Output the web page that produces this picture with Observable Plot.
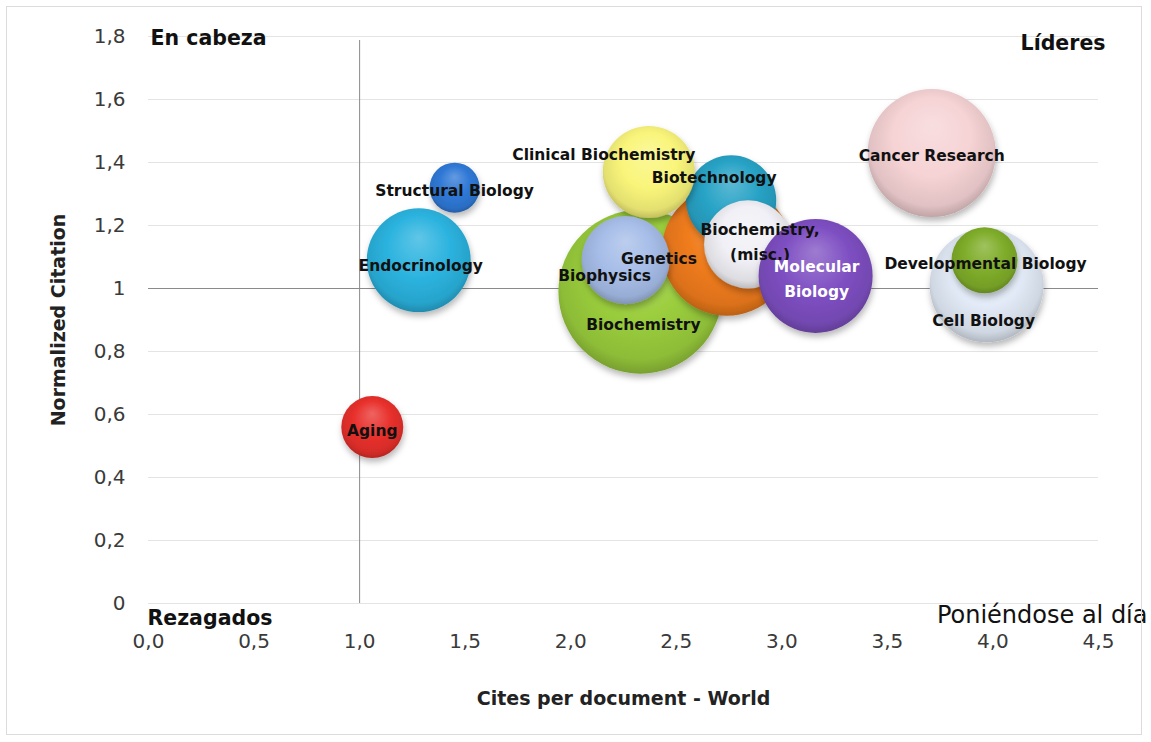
<!DOCTYPE html>
<html>
<head>
<meta charset="utf-8">
<script src="https://cdn.jsdelivr.net/npm/d3@7"></script>
<script src="https://cdn.jsdelivr.net/npm/@observablehq/plot@0.6"></script>
<style>
  html, body { margin: 0; padding: 0; background: #ffffff; }
  #chart { width: 1151px; height: 742px; }
</style>
</head>
<body>
<div id="chart"></div>
<script>
// ---- Data (drawing order: back to front) ----
const categories = [
  "Aging", "Structural Biology", "Endocrinology", "Cancer Research", "Cell Biology",
  "Developmental Biology", "Biochemistry", "Genetics", "Biotechnology",
  "Clinical Biochemistry", "Biochemistry, (misc.)", "Biophysics", "Molecular Biology"
];
const labels = [
  "Aging", "Structural Biology", "Endocrinology", "Cancer Research", "Cell Biology",
  "Developmental Biology", "Biochemistry", "Genetics", "Biotechnology",
  "Clinical Biochemistry", "Biochemistry,\n(misc.)", "Biophysics", "Molecular\nBiology"
];
const citesPerDoc        = [1.06, 1.45, 1.28, 3.71, 3.97, 3.96, 2.33, 2.74, 2.76, 2.37, 2.84, 2.26, 3.16];
const normalizedCitation = [0.56, 1.32, 1.09, 1.43, 1.01, 1.09, 0.99, 1.12, 1.28, 1.37, 1.14, 1.09, 1.04];
const bubbleSize         = [9.6, 6.25, 27, 41, 32.5, 10.9, 67.2, 42.3, 20.3, 21.2, 19.4, 19.4, 32.5];

const xTicks = [0, 0.5, 1, 1.5, 2, 2.5, 3, 3.5, 4, 4.5];
const yTicks = [0, 0.2, 0.4, 0.6, 0.8, 1, 1.2, 1.4, 1.6, 1.8];
const xTitle = "Cites per document - World";
const yTitle = "Normalized Citation";
const quadrantLabels = ["En cabeza", "Líderes", "Rezagados", "Poniéndose al día"];

// ---- Styles ----
const bubbleColors = [
  "#e8302c", "#2f78d6", "#2bb3df", "#f6d3d5", "#e2ebf7",
  "#7fad2a", "#9acd3c", "#f07c1c", "#28a3c6",
  "#f9f57a", "#f1f0f6", "#a6bde8", "#7e4fc2"
];
const labelColors = categories.map(c => c === "Molecular Biology" ? "#ffffff" : "#111111");
const labelDx = [0, 0, 2, 0, -3, 1, 3, -68, -17, -45, 12, -21, 1];
const labelDy = [1, 0, 3, 0, 33, 1, 30, 5, -25, -20, -5, 13, 1];

const data = categories.map((c, i) => ({
  i, name: c, label: labels[i],
  x: citesPerDoc[i], y: normalizedCitation[i], size: bubbleSize[i]
}));

const fmtY = v => v === 0 ? "0" : v === 1 ? "1" : v.toFixed(1).replace(".", ",");
const fmtX = v => v.toFixed(1).replace(".", ",");

const FONT = "DejaVu Sans";

const plot = Plot.plot({
  width: 1151,
  height: 742,
  marginLeft: 148,
  marginRight: 53,
  marginTop: 36,
  marginBottom: 139,
  style: { fontFamily: FONT, fontSize: "20px", color: "#3a3a3a", background: "#ffffff", overflow: "visible" },
  x: { domain: [0, 4.5], ticks: xTicks, tickFormat: fmtX, tickSize: 0, tickPadding: 30, label: null },
  y: { domain: [0, 1.8], ticks: yTicks, tickFormat: fmtY, tickSize: 0, tickPadding: 23, label: null },
  r: { type: "sqrt", domain: [0, 100], range: [0, 100] },
  marks: [
    Plot.ruleY(yTicks, { stroke: "#e4e4e4", strokeWidth: 1 }),
    Plot.ruleY([1], { stroke: "#8a8a8a", strokeWidth: 1 }),
    Plot.ruleX([1], { y1: 0, y2: 1.8, stroke: "#8a8a8a", strokeWidth: 1, insetBottom: -4 }),
    ...data.map(d => Plot.dot([d], {
      x: "x", y: "y", r: "size",
      fill: `url(#bub${d.i})`, stroke: "none"
    })),
    ...data.map(d => Plot.text([d], {
      x: "x", y: "y", text: "label",
      dx: labelDx[d.i], dy: labelDy[d.i],
      fontFamily: FONT, fontSize: 15.5, fontWeight: "bold",
      lineAnchor: "middle", lineHeight: 1.6,
      fill: labelColors[d.i]
    })),
    // quadrant labels
    Plot.text([quadrantLabels[0]], { x: () => 0, y: () => 1.8, text: d => d, textAnchor: "start", lineAnchor: "middle", dx: 2, dy: 2, fontFamily: FONT, fontSize: 20.5, fontWeight: "bold", fill: "#111" }),
    Plot.text([quadrantLabels[1]], { x: () => 4.5, y: () => 1.8, text: d => d, textAnchor: "end", lineAnchor: "middle", dx: 7, dy: 7, fontFamily: FONT, fontSize: 20.5, fontWeight: "bold", fill: "#111" }),
    Plot.text([quadrantLabels[2]], { x: () => 0, y: () => 0, text: d => d, textAnchor: "start", lineAnchor: "middle", dx: -1, dy: 15, fontFamily: FONT, fontSize: 20.5, fontWeight: "bold", fill: "#111" }),
    Plot.text([quadrantLabels[3]], { x: () => 4.5, y: () => 0, text: d => d, textAnchor: "end", lineAnchor: "middle", dx: 49, dy: 12, fontFamily: FONT, fontSize: 24, fill: "#111" }),
    // axis titles
    Plot.text([xTitle], { frameAnchor: "bottom", text: d => d, textAnchor: "middle", dy: 95, lineAnchor: "middle", fontFamily: FONT, fontSize: 19, fontWeight: "bold", fill: "#222" }),
    Plot.text([yTitle], { frameAnchor: "left", text: d => d, textAnchor: "middle", dx: -90, rotate: -90, lineAnchor: "middle", fontFamily: FONT, fontSize: 19, fontWeight: "bold", fill: "#222" })
  ]
});

// ---- gradients + shadows ----
const svg = d3.select(plot);
const defs = svg.insert("defs", ":first-child");
const shadow = defs.append("filter").attr("id", "bubShadow")
  .attr("x", "-30%").attr("y", "-30%").attr("width", "160%").attr("height", "170%");
shadow.append("feDropShadow").attr("dx", 1).attr("dy", 4).attr("stdDeviation", 3)
  .attr("flood-color", "#000").attr("flood-opacity", 0.28);

bubbleColors.forEach((c, i) => {
  const base = d3.color(c);
  const g = defs.append("radialGradient").attr("id", `bub${i}`)
    .attr("cx", "50%").attr("cy", "45%").attr("r", "55%")
    .attr("fx", "50%").attr("fy", "28%");
  g.append("stop").attr("offset", "0%").attr("stop-color", d3.interpolateRgb(c, "#ffffff")(0.25));
  g.append("stop").attr("offset", "55%").attr("stop-color", c);
  g.append("stop").attr("offset", "88%").attr("stop-color", base.darker(0.25).formatHex());
  g.append("stop").attr("offset", "100%").attr("stop-color", base.darker(0.7).formatHex());
});
svg.selectAll("circle").attr("filter", "url(#bubShadow)");

// outer border
svg.append("rect")
  .attr("x", 6.5).attr("y", 6.5).attr("width", 1135).attr("height", 728)
  .attr("fill", "none").attr("stroke", "#dcdcdc").attr("stroke-width", 1);

document.getElementById("chart").appendChild(plot);
</script>
</body>
</html>
